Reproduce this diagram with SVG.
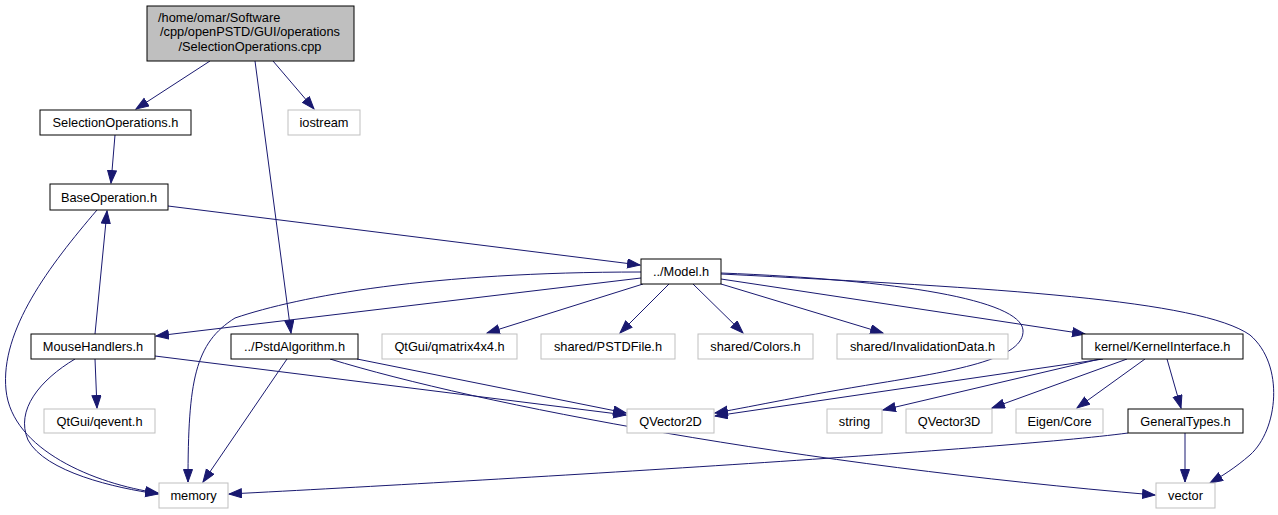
<svg xmlns="http://www.w3.org/2000/svg" width="1278" height="515" viewBox="0 0 1278 515">
<defs>
<marker id="ah" markerUnits="userSpaceOnUse" markerWidth="14" markerHeight="11" refX="13" refY="5" orient="auto">
<path d="M0.5,0.5 L13,5 L0.5,9.5 z" fill="#191970" stroke="#191970" stroke-width="1"/>
</marker>
</defs>
<style>
text{font-family:"Liberation Sans",Arial,sans-serif;font-size:12.8px;fill:#000}
.c{text-anchor:middle}
.bk{fill:#fff;stroke:#000;stroke-width:1}
.gr{fill:#fff;stroke:#bfbfbf;stroke-width:1}
.e{fill:none;stroke:#191970;stroke-width:1;marker-end:url(#ah)}
</style>
<rect width="1278" height="515" fill="#fff"/>
<g id="edges">
<path class="e" d="M210,61 L136,109"/>
<path class="e" d="M273,61 L314,109"/>
<path class="e" d="M255,61 L291,333"/>
<path class="e" d="M115,135 L111,183"/>
<path class="e" d="M168,206 L640,265"/>
<path class="e" d="M97,210 C50,265 0,330 6,390 C12,450 95,484 158,493"/>
<path class="e" d="M95,334 L107,211"/>
<path class="e" d="M95,359 L97,408"/>
<path class="e" d="M75,359 C40,380 15,410 28,440 C45,472 115,488 158,494"/>
<path class="e" d="M155,356 L626,415"/>
<path class="e" d="M357,359 L626,413"/>
<path class="e" d="M330,359 C480,405 800,465 1155,495"/>
<path class="e" d="M287,359 L203,482"/>
<path class="e" d="M641,272 C430,272 300,296 235,318 C195,343 188,380 188,482"/>
<path class="e" d="M641,278 L156,336"/>
<path class="e" d="M643,284 L487,333"/>
<path class="e" d="M669,284 L620,333"/>
<path class="e" d="M693,284 L743,333"/>
<path class="e" d="M721,284 L883,333"/>
<path class="e" d="M721,279 L1085,334"/>
<path class="e" d="M721,273 C900,280 1020,300 1023,330 C1025,358 960,370 880,383 C800,396 760,405 715,413"/>
<path class="e" d="M1103,359 L715,416"/>
<path class="e" d="M1100,359 L883,410"/>
<path class="e" d="M1127,359 L992,408"/>
<path class="e" d="M1145,359 L1077,408"/>
<path class="e" d="M1167,359 L1181,408"/>
<path class="e" d="M721,274 C1000,288 1200,300 1250,335 C1285,365 1278,430 1250,455 C1235,468 1222,476 1210,483"/>
<path class="e" d="M1185,433 L1185,482"/>
<path class="e" d="M1128,433 C1000,450 500,480 229,494"/>
</g>
<g id="root"><rect x="147" y="6" width="207" height="55" fill="#bfbfbf" stroke="#000"/>
<text x="158" y="21.5">/home/omar/Software</text>
<text class="c" x="250" y="36">/cpp/openPSTD/GUI/operations</text>
<text class="c" x="250" y="50.5">/SelectionOperations.cpp</text></g>
<g id="selops"><rect class="bk" x="40" y="110" width="151" height="25"/><text class="c" x="115.5" y="127">SelectionOperations.h</text></g>
<g id="iostream"><rect class="gr" x="288" y="110" width="72" height="25"/><text class="c" x="324" y="127">iostream</text></g>
<g id="baseop"><rect class="bk" x="50" y="184" width="118" height="26"/><text class="c" x="109" y="201.5">BaseOperation.h</text></g>
<g id="model"><rect class="bk" x="641" y="259" width="80" height="25"/><text class="c" x="681" y="276">../Model.h</text></g>
<g id="mouse"><rect class="bk" x="31" y="334" width="124" height="25"/><text class="c" x="93" y="351">MouseHandlers.h</text></g>
<g id="pstd"><rect class="bk" x="231" y="334" width="127" height="25"/><text class="c" x="294.5" y="351">../PstdAlgorithm.h</text></g>
<g id="qmatrix"><rect class="gr" x="382" y="334" width="135" height="25"/><text class="c" x="449.5" y="351">QtGui/qmatrix4x4.h</text></g>
<g id="pstdfile"><rect class="gr" x="541" y="334" width="134" height="25"/><text class="c" x="608" y="351">shared/PSTDFile.h</text></g>
<g id="colors"><rect class="gr" x="698" y="334" width="115" height="25"/><text class="c" x="755.5" y="351">shared/Colors.h</text></g>
<g id="invalid"><rect class="gr" x="837" y="334" width="171" height="25"/><text class="c" x="922.5" y="351">shared/InvalidationData.h</text></g>
<g id="kernel"><rect class="bk" x="1082" y="334" width="161" height="25"/><text class="c" x="1162.5" y="351">kernel/KernelInterface.h</text></g>
<g id="qevent"><rect class="gr" x="44" y="409" width="111" height="24"/><text class="c" x="99.5" y="425.5">QtGui/qevent.h</text></g>
<g id="qvec2"><rect class="gr" x="627" y="409" width="87" height="24"/><text class="c" x="670.5" y="425.5">QVector2D</text></g>
<g id="string"><rect class="gr" x="827" y="409" width="55" height="24"/><text class="c" x="854.5" y="425.5">string</text></g>
<g id="qvec3"><rect class="gr" x="906" y="409" width="86" height="24"/><text class="c" x="949" y="425.5">QVector3D</text></g>
<g id="eigen"><rect class="gr" x="1016" y="409" width="87" height="24"/><text class="c" x="1059.5" y="425.5">Eigen/Core</text></g>
<g id="gentypes"><rect class="bk" x="1128" y="409" width="115" height="24"/><text class="c" x="1185.5" y="425.5">GeneralTypes.h</text></g>
<g id="memory"><rect class="gr" x="159" y="483" width="69" height="25"/><text class="c" x="193.5" y="500">memory</text></g>
<g id="vector"><rect class="gr" x="1156" y="483" width="59" height="25"/><text class="c" x="1185.5" y="500">vector</text></g>
</svg>
